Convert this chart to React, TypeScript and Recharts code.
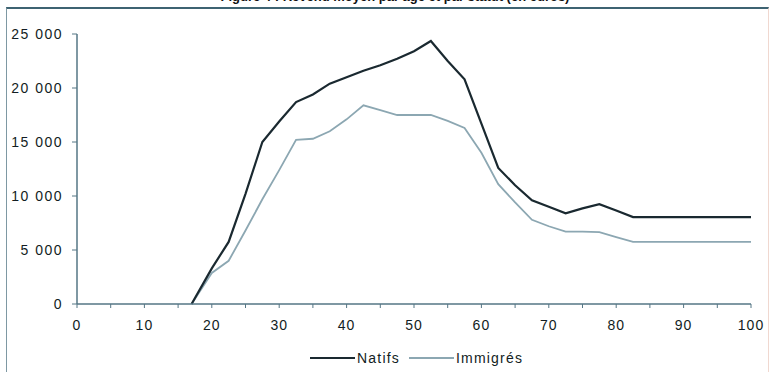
import React from "react";
import { LineChart, Line, XAxis, YAxis } from "recharts";

// ages (x) and average amounts (euros) for each group
const ages = [17, 20, 22.5, 25, 27.5, 30, 32.5, 35, 37.5, 40, 42.5, 45, 47.5, 50, 52.5, 55, 57.5, 60, 62.5, 65, 67.5, 70, 72.5, 75, 77.5, 80, 82.5, 100];
const natifs = [0, 3300, 5750, 10200, 15000, 16900, 18700, 19400, 20400, 21000, 21600, 22100, 22700, 23400, 24350, 22500, 20800, 16700, 12600, 11000, 9600, 9000, 8400, 8850, 9250, 8650, 8050, 8050];
const immigres = [0, 2870, 4000, 6800, 9700, 12400, 15200, 15300, 16000, 17100, 18400, 17950, 17500, 17500, 17500, 16950, 16300, 14000, 11100, 9400, 7800, 7200, 6700, 6700, 6650, 6200, 5750, 5750];

const xTicks = [0, 5, 10, 15, 20, 25, 30, 35, 40, 45, 50, 55, 60, 65, 70, 75, 80, 85, 90, 95, 100];
const yTicks = [0, 5000, 10000, 15000, 20000, 25000];

const data = ages.map((age, i) => ({ age, natifs: natifs[i], immigres: immigres[i] }));

const AXIS = "#557685";
const TEXT = "#121d23";
const FONT = "'Liberation Sans', Arial, sans-serif";
const NAT_COLOR = "#1a2930";
const IMM_COLOR = "#8ca7b2";

const fmtThousands = (v: number) =>
  v === 0 ? "0" : `${Math.floor(v / 1000)} ${String(v % 1000).padStart(3, "0")}`;

const legendItems = [
  { label: "Natifs", color: NAT_COLOR, width: 2.2 },
  { label: "Immigrés", color: IMM_COLOR, width: 1.8 },
];

export default function App() {
  return (
    <div style={{ position: "fixed", top: 0, left: 0, width: 769, height: 372, background: "#fff", overflow: "hidden" }}>
      {/* title, cut off at the top of the picture */}
      <div style={{ position: "absolute", top: 0, left: 0, width: 769, height: 5, overflow: "hidden" }}>
        <div style={{ position: "absolute", top: -11, left: 185, width: 420, textAlign: "center", fontFamily: FONT, fontWeight: "bold", fontSize: 13, color: "#111", whiteSpace: "nowrap" }}>
          Figure 4 : Revenu moyen par âge et par statut (en euros)
        </div>
      </div>
      <div
        style={{
          position: "absolute",
          top: 7,
          left: 6,
          width: 761,
          height: 363,
          borderTop: "2px solid #3e6372",
          borderLeft: "1px solid #7e98a3",
          borderRight: "1px solid #f0d8d0",
          borderBottom: "1px solid #f3e0da",
        }}
      />
      <div style={{ position: "absolute", top: 0, left: 0 }}>
        <LineChart width={769} height={372} data={data} margin={{ top: 34, right: 18, bottom: 0, left: 0 }}>
          <XAxis
            dataKey="age"
            type="number"
            domain={[0, 100]}
            ticks={xTicks}
            interval={0}
            tickFormatter={(v: number) => (v % 10 === 0 ? String(v) : "")}
            tick={{ fontSize: 14, fill: TEXT, fontFamily: FONT, letterSpacing: 1 }}
            tickSize={4}
            tickMargin={12}
            height={68}
            axisLine={{ stroke: AXIS, strokeWidth: 1.5 }}
            tickLine={{ stroke: AXIS }}
          />
          <YAxis
            type="number"
            domain={[0, 25000]}
            ticks={yTicks}
            interval={0}
            tickFormatter={fmtThousands}
            tick={{ fontSize: 14, fill: TEXT, fontFamily: FONT, letterSpacing: 1.5 }}
            tickSize={5}
            tickMargin={9}
            width={77}
            axisLine={{ stroke: AXIS, strokeWidth: 1.5 }}
            tickLine={{ stroke: AXIS }}
          />
          <Line dataKey="immigres" name="Immigrés" stroke={IMM_COLOR} strokeWidth={1.8} dot={false} isAnimationActive={false} />
          <Line dataKey="natifs" name="Natifs" stroke={NAT_COLOR} strokeWidth={2.2} dot={false} isAnimationActive={false} />
        </LineChart>
      </div>
      {/* legend */}
      <div style={{ position: "absolute", top: 350, left: 310, display: "flex", fontFamily: FONT, fontSize: 14, letterSpacing: 1.2, color: TEXT }}>
        {legendItems.map((it) => (
          <div key={it.label} style={{ display: "flex", alignItems: "center", marginRight: 9 }}>
            <svg width={45} height={14} style={{ marginRight: 2 }}>
              <line x1={0} y1={7} x2={45} y2={7} stroke={it.color} strokeWidth={it.width} />
            </svg>
            <span>{it.label}</span>
          </div>
        ))}
      </div>
    </div>
  );
}
